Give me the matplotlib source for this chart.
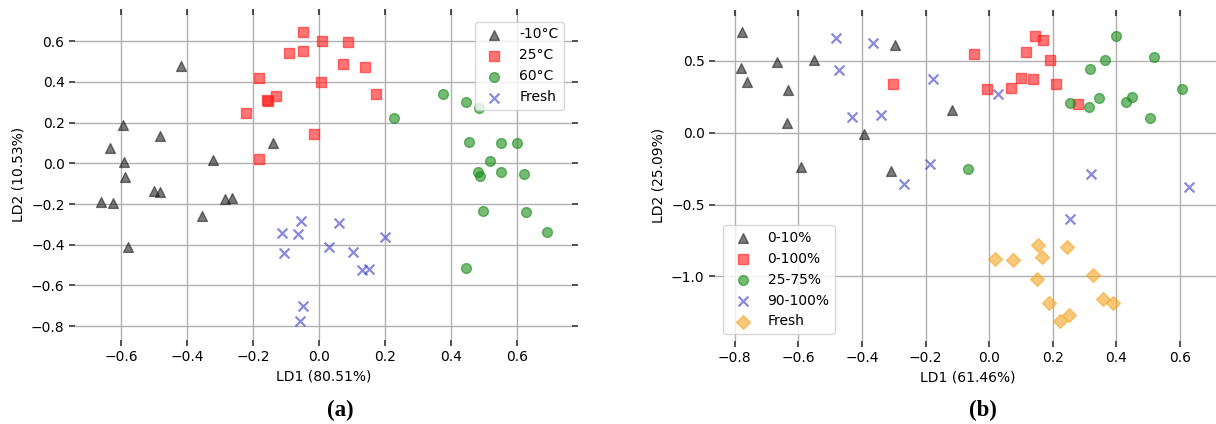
import matplotlib
matplotlib.use("Agg")
import matplotlib.pyplot as plt
import matplotlib.lines as mlines
from matplotlib.ticker import MultipleLocator
import numpy as np

# ---------- panel (a): temperature ----------
a_cold_x = [-0.419, -0.596, -0.482, -0.633, -0.591, -0.590, -0.323, -0.140,
            -0.500, -0.482, -0.661, -0.626, -0.285, -0.263, -0.356, -0.580]
a_cold_y = [0.476, 0.190, 0.134, 0.077, 0.008, -0.067, 0.016, 0.098,
            -0.135, -0.143, -0.189, -0.196, -0.173, -0.171, -0.258, -0.409]

a_room_x = [-0.048, -0.092, -0.049, 0.009, 0.087, 0.073, 0.004, -0.183,
            -0.158, -0.154, -0.130, -0.221, -0.017, -0.184, 0.140, 0.173]
a_room_y = [0.644, 0.544, 0.553, 0.603, 0.598, 0.487, 0.401, 0.417,
            0.310, 0.305, 0.329, 0.249, 0.142, 0.021, 0.473, 0.342]

a_hot_x = [0.228, 0.375, 0.445, 0.483, 0.454, 0.552, 0.599, 0.518,
           0.481, 0.488, 0.552, 0.620, 0.495, 0.627, 0.690, 0.445]
a_hot_y = [0.223, 0.342, 0.300, 0.272, 0.104, 0.101, 0.101, 0.010,
           -0.042, -0.062, -0.042, -0.054, -0.236, -0.238, -0.339, -0.515]

a_fresh_x = [-0.056, -0.113, -0.064, -0.108, 0.061, 0.031, 0.101, -0.049,
             -0.058, 0.130, 0.152, 0.199]
a_fresh_y = [-0.282, -0.342, -0.347, -0.440, -0.292, -0.409, -0.437, -0.703,
             -0.776, -0.523, -0.518, -0.362]

a_labels = ["-10°C", "25°C", "60°C", "Fresh"]

# ---------- panel (b): state of charge ----------
b_low_x = [-0.777, -0.781, -0.760, -0.668, -0.552, -0.631, -0.636, -0.393,
           -0.591, -0.297, -0.310, -0.118]
b_low_y = [0.701, 0.446, 0.350, 0.492, 0.508, 0.297, 0.067, -0.007,
           -0.242, 0.606, -0.269, 0.160]

b_full_x = [-0.303, -0.049, 0.143, 0.168, 0.116, 0.191, -0.008, 0.069,
            0.100, 0.139, 0.210, 0.281]
b_full_y = [0.341, 0.550, 0.675, 0.645, 0.559, 0.508, 0.304, 0.309,
            0.378, 0.376, 0.337, 0.202]

b_mid_x = [0.399, 0.364, 0.518, 0.318, 0.606, 0.253, 0.314, 0.344,
           0.429, 0.449, 0.506, -0.067]
b_mid_y = [0.669, 0.508, 0.524, 0.443, 0.306, 0.207, 0.179, 0.242,
           0.211, 0.246, 0.104, -0.253]

b_high_x = [-0.481, -0.366, -0.471, -0.431, -0.340, -0.268, -0.175, -0.186,
            0.027, 0.320, 0.627, 0.253]
b_high_y = [0.659, 0.624, 0.434, 0.107, 0.121, -0.355, 0.376, -0.216,
            0.267, -0.286, -0.378, -0.601]

b_fresh_x = [0.154, 0.246, 0.020, 0.074, 0.167, 0.326, 0.152, 0.187,
             0.358, 0.391, 0.251, 0.223]
b_fresh_y = [-0.782, -0.796, -0.877, -0.889, -0.866, -0.987, -1.015, -1.182,
             -1.154, -1.186, -1.270, -1.311]

b_labels = ["0-10%", "0-100%", "25-75%", "90-100%", "Fresh"]

# marker / colour per group (same order in both panels)
STYLES = [
    dict(marker="^", color="#222222"),
    dict(marker="s", color="#ff1a1a"),
    dict(marker="o", color="#1a8c1a"),
    dict(marker="x", color="#3a3ac8"),
    dict(marker="D", color="#f5a623"),
]
ALPHA = 0.6
SIZE = 50

plt.rcParams["font.family"] = ["DejaVu Sans"]
plt.rcParams["font.size"] = 10


def style_axes(ax, xstep, ystep):
    for s in ax.spines.values():
        s.set_visible(False)
    ax.xaxis.set_major_locator(MultipleLocator(xstep))
    ax.yaxis.set_major_locator(MultipleLocator(ystep))
    ax.grid(True, color="#b0b0b0", linewidth=1.0)
    ax.set_axisbelow(True)
    ax.tick_params(top=True, right=True, direction="out", length=4,
                   width=1.2, color="#333333", labelsize=10)
    # top ticks point into the plot
    for t in ax.xaxis.get_major_ticks():
        t.tick2line.set_marker(mlines.TICKDOWN)


def draw_groups(ax, groups, labels):
    for (gx, gy), lab, st in zip(groups, labels, STYLES):
        if st["marker"] == "x":
            ax.scatter(gx, gy, s=SIZE, marker="x", color=st["color"],
                       alpha=ALPHA, linewidths=1.6, label=lab)
        else:
            ax.scatter(gx, gy, s=SIZE, marker=st["marker"], color=st["color"],
                       alpha=ALPHA, linewidths=1.0, label=lab)


fig = plt.figure(figsize=(12.16, 4.24), dpi=100)

ax_a = fig.add_axes([0.0617, 0.1981, 0.4087, 0.7807])
draw_groups(ax_a,
            [(a_cold_x, a_cold_y), (a_room_x, a_room_y),
             (a_hot_x, a_hot_y), (a_fresh_x, a_fresh_y)],
            a_labels)
ax_a.set_xlim(-0.740, 0.766)
ax_a.set_ylim(-0.868, 0.758)
style_axes(ax_a, 0.2, 0.2)
ax_a.set_xlabel("LD1 (80.51%)", fontsize=10)
ax_a.set_ylabel("LD2 (10.53%)", fontsize=10)
ax_a.legend(loc="upper right", bbox_to_anchor=(0.984, 0.961),
            borderaxespad=0, fontsize=10)

ax_b = fig.add_axes([0.5880, 0.1958, 0.4153, 0.7807])
draw_groups(ax_b,
            [(b_low_x, b_low_y), (b_full_x, b_full_y), (b_mid_x, b_mid_y),
             (b_high_x, b_high_y), (b_fresh_x, b_fresh_y)],
            b_labels)
ax_b.set_xlim(-0.862, 0.726)
ax_b.set_ylim(-1.449, 0.853)
style_axes(ax_b, 0.2, 0.5)
ax_b.set_xlabel("LD1 (61.46%)", fontsize=10)
ax_b.set_ylabel("LD2 (25.09%)", fontsize=10)
ax_b.legend(loc="lower left", bbox_to_anchor=(0.016, 0.021),
            borderaxespad=0, fontsize=10)

fig.text(340 / 1216, 1 - 410 / 424, "(a)", ha="center", va="center",
         fontsize=16.5, fontweight="bold", family="Liberation Serif")
fig.text(983 / 1216, 1 - 410 / 424, "(b)", ha="center", va="center",
         fontsize=16.5, fontweight="bold", family="Liberation Serif")

fig.savefig("out.png", dpi=100)
